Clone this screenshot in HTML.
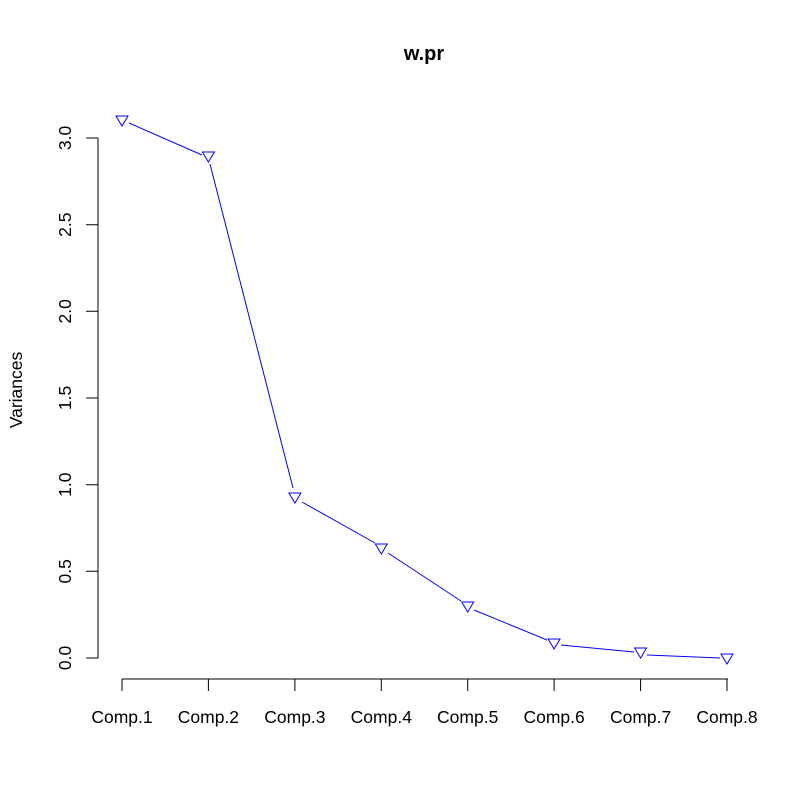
<!DOCTYPE html>
<html><head><style>body{margin:0;background:#fff}</style></head><body>
<svg width="803" height="802" xmlns="http://www.w3.org/2000/svg" font-family="Liberation Sans, Arial, sans-serif">
<rect width="803" height="802" fill="#fff"/>
<text x="424" y="60" font-size="20" font-weight="bold" text-anchor="middle">w.pr</text>
<g stroke="#000" stroke-width="1" fill="none">
<path d="M98,138V658M86,138H98M86,571.3H98M86,484.7H98M86,398H98M86,311.3H98M86,224.7H98M86,658H98"/>
<path d="M122,679H728M122,679v12M208.4,679v12M294.9,679v12M381.3,679v12M467.7,679v12M554.1,679v12M640.6,679v12M727,679v12"/>
</g>
<g font-size="17.5" text-anchor="middle">
<text transform="translate(71,138) rotate(-90)">3.0</text>
<text transform="translate(71,224.7) rotate(-90)">2.5</text>
<text transform="translate(71,311.3) rotate(-90)">2.0</text>
<text transform="translate(71,398) rotate(-90)">1.5</text>
<text transform="translate(71,484.7) rotate(-90)">1.0</text>
<text transform="translate(71,571.3) rotate(-90)">0.5</text>
<text transform="translate(71,658) rotate(-90)">0.0</text>
<text transform="translate(22,390) rotate(-90)">Variances</text>
<text x="122" y="723">Comp.1</text><text x="208.4" y="723">Comp.2</text><text x="294.9" y="723">Comp.3</text><text x="381.3" y="723">Comp.4</text><text x="467.7" y="723">Comp.5</text><text x="554.1" y="723">Comp.6</text><text x="640.6" y="723">Comp.7</text><text x="727" y="723">Comp.8</text>
</g>
<g stroke="#0000ff" stroke-width="1" fill="none">
<path d="M129,123L202,155M210,164L293,488M302,502L375,543M388,553L461,601M474,610L547,640M561,645L634,652M647,655L720,658"/>
<path d="M116,116h12l-6,10z M202.4,152h12l-6,10z M288.9,493h12l-6,10z M375.3,544h12l-6,10z M461.7,602h12l-6,10z M548.1,639h12l-6,10z M634.6,648h12l-6,10z M721,654h12l-6,10z"/>
</g>
</svg>
</body></html>
